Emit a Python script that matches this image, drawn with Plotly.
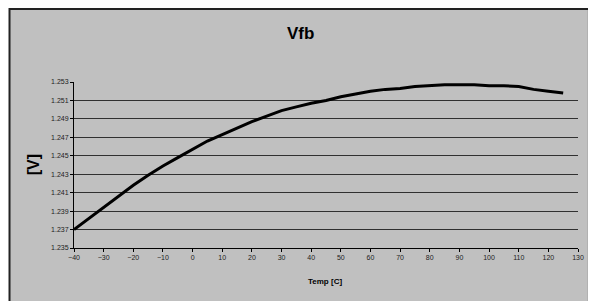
import plotly.graph_objects as go

temps = [-40, -35, -30, -25, -20, -15, -10, -5, 0, 5, 10, 15, 20, 25, 30, 35, 40,
         45, 50, 55, 60, 65, 70, 75, 80, 85, 90, 95, 100, 105, 110, 115, 120, 125]
vfb = [1.2370, 1.2382, 1.2395, 1.2407, 1.2418, 1.2429, 1.2439, 1.2448, 1.2457, 1.2466,
       1.2473, 1.2480, 1.2487, 1.2493, 1.2499, 1.2503, 1.2507, 1.2510, 1.2514, 1.2517,
       1.2520, 1.2522, 1.2523, 1.2525, 1.2526, 1.2527, 1.2527, 1.2527, 1.2526, 1.2526,
       1.2525, 1.2522, 1.2520, 1.2518]

title_text = "Vfb"
x_title = "Temp [C]"
y_title = "[V]"

# page has an 8px body margin; work in page coordinates and shift
OFF = 8
W, H = 596 - OFF, 301 - OFF
L, R, T, B = 74 - OFF, 14, 82 - OFF, 53
pw, ph = W - L - R, H - T - B

def px(x):
    return (x - OFF - L) / pw

def py(y):
    return (H - B - (y - OFF)) / ph

fig = go.Figure()
fig.add_trace(go.Scatter(x=temps, y=vfb, mode="lines",
                         line=dict(color="black", width=3), showlegend=False,
                         hoverinfo="skip"))

fig.add_shape(type="rect", xref="paper", yref="paper",
              x0=px(9), x1=px(593), y0=py(320), y1=py(9),
              fillcolor="#C0C0C0", line=dict(color="#222222", width=2), layer="below")

fig.add_annotation(text="<b>" + title_text + "</b>", xref="paper", yref="paper",
                   x=px(302.5), y=py(34), showarrow=False,
                   xanchor="center", yanchor="middle",
                   font=dict(family="Liberation Sans, Arial", size=17, color="black"))
fig.add_annotation(text="<b>" + y_title + "</b>", xref="paper", yref="paper",
                   x=px(33), y=py(165), showarrow=False, textangle=-90,
                   xanchor="center", yanchor="middle",
                   font=dict(family="Liberation Sans, Arial", size=16, color="black"))
fig.add_annotation(text="<b>" + x_title + "</b>", xref="paper", yref="paper",
                   x=px(327), y=py(281), showarrow=False,
                   xanchor="center", yanchor="middle",
                   font=dict(family="Liberation Sans, Arial", size=8, color="black"))

fig.update_layout(
    width=W, height=H,
    margin=dict(l=L, r=R, t=T, b=B, pad=0),
    paper_bgcolor="white",
    plot_bgcolor="rgba(0,0,0,0)",
    font=dict(family="Liberation Sans, Arial", size=7, color="#222222"),
)
fig.update_xaxes(range=[-40, 130], tick0=-40, dtick=10, showgrid=False, zeroline=False,
                 showline=True, linecolor="black", linewidth=1,
                 ticks="outside", ticklen=3, tickcolor="black", tickwidth=1,
                 tickfont=dict(size=7, color="#222222"))
fig.update_yaxes(range=[1.235, 1.253], tick0=1.235, dtick=0.002, tickformat=".3f",
                 showgrid=True, gridcolor="#303030", gridwidth=1, zeroline=False,
                 showline=True, linecolor="black", linewidth=1,
                 ticks="outside", ticklen=3, tickcolor="black", tickwidth=1,
                 tickfont=dict(size=7, color="#222222"))

fig.write_html("out.html")
